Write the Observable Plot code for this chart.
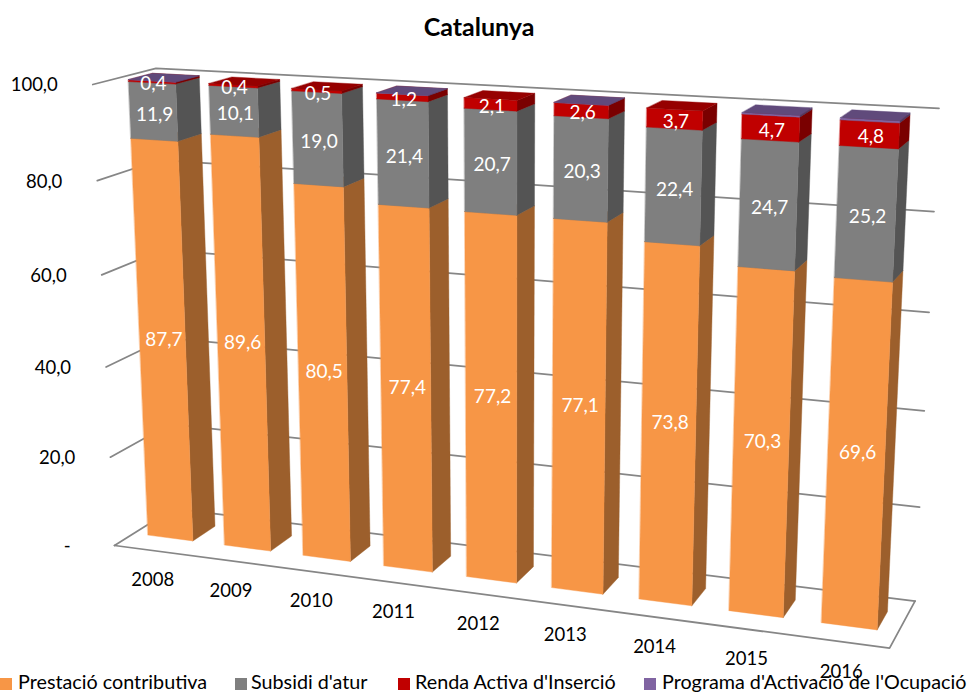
<!DOCTYPE html>
<html lang="ca">
<head>
<meta charset="utf-8">
<script src="https://cdn.jsdelivr.net/npm/d3@7"></script>
<script src="https://cdn.jsdelivr.net/npm/@observablehq/plot@0.6"></script>
<style>
  html, body { margin: 0; padding: 0; background: #fff; }
  #page { position: relative; width: 969px; height: 693px; overflow: hidden; font-family: Lato, sans-serif; color: #000; }
  #title { position: absolute; left: 0; width: 958px; top: 11px; text-align: center; font-weight: 700; font-size: 25px; line-height: 30px; }
  #chart { position: absolute; left: 0; top: 0; }
  .lg { position: absolute; top: 670px; font-size: 19.75px; line-height: 24px; white-space: nowrap; }
  .sw { position: absolute; top: 678px; width: 12px; height: 12px; }
</style>
</head>
<body>
<div id="page">
  <div id="chart"></div>
  <div id="title">Catalunya</div>
</div>
<script>
const years = ["2008","2009","2010","2011","2012","2013","2014","2015","2016"];
const prestacio = [87.7,89.6,80.5,77.4,77.2,77.1,73.8,70.3,69.6];
const subsidi   = [11.9,10.1,19.0,21.4,20.7,20.3,22.4,24.7,25.2];
const renda     = [0.4,0.4,0.5,1.2,2.1,2.6,3.7,4.7,4.8];
const programa  = [0.02,0,0,0.02,0,0.02,0,0.3,0.4];
const seriesNames = ["Prestació contributiva","Subsidi d'atur","Renda Activa d'Inserció","Programa d'Activació de l'Ocupació"];
const seriesValues = [prestacio, subsidi, renda, programa];
const valueTicks = [0,20,40,60,80,100];
const valueTickLabels = ["-","20,0","40,0","60,0","80,0","100,0"];

const frontColors = ["#F79646","#7F7F7F","#C00000","#8064A2"];
const sideColors  = ["#9C5F2C","#545454","#7A0000","#4D3B62"];
const topColors   = ["#B87034","#666666","#960000","#604A7B"];
const gridColor = "#868686";
const legendSwatchX = [0,235,398,644];
const legendTextX = [18,251,415,662];
const labelShift = [-4,2.5,2];

// Three-point perspective camera of the 3-D chart box.
const W = 969, H = 693;
const vpX = [-5792,-237], vpY = [509,8936], vpZ = [1371,-243], origin = [114,545];
const kX = -0.01289, kY = -0.0005208, kZ = 0.04925;
function project(cat, val, depth) {
  const a = kX*cat, b = kY*val, c = kZ*depth, w = 1+a+b+c;
  return [(a*vpX[0]+b*vpY[0]+c*vpZ[0]+origin[0])/w, (a*vpX[1]+b*vpY[1]+c*vpZ[1]+origin[1])/w];
}
const barL = 0.2, barR = 0.79, zF = 0.31, zB = 0.70;

// Quads: each face is two edges, (a→) and (b→), filled between.
const faces = [];
let fid = 0;
function quad(p1, p2, p3, p4, fill) {
  const id = fid++;
  faces.push({id, fill, a: project(...p1), b: project(...p2)});
  faces.push({id, fill, a: project(...p4), b: project(...p3)});
}
years.forEach((yr, i) => {
  let base = 0;
  seriesValues.forEach((vals, s) => {
    const v = vals[i];
    if (!v) return;
    const t = base + v, L = i+barL, R = i+barR;
    quad([R,t,zF],[R,base,zF],[R,base,zB],[R,t,zB], sideColors[s]);
    quad([L,t,zF],[L,base,zF],[R,base,zF],[R,t,zF], frontColors[s]);
    quad([L,t,zF],[L,t,zB],[R,t,zB],[R,t,zF], topColors[s]);
    base = t;
  });
});

const gridPts = [];
valueTicks.forEach(v => {
  [[0,0],[0,1],[years.length,1]].forEach(([c,d]) => gridPts.push({k:v, p:project(c,v,d)}));
});
[[0,0],[years.length,0],[years.length,1]].forEach(([c,d]) => gridPts.push({k:"floor", p:project(c,0,d)}));

const labels = [];
years.forEach((yr, i) => {
  let base = 0;
  seriesValues.slice(0,3).forEach((vals, s) => {
    const v = vals[i];
    const p = project(i+0.5, base+v/2, zF);
    labels.push({text: v.toFixed(1).replace(".",","), x:p[0]+0.5, y:p[1]+labelShift[s]});
    base += v;
  });
});

const chart = Plot.plot({
  width: W, height: H, margin: 0,
  x: {domain:[0,W], range:[0,W], axis:null},
  y: {domain:[0,H], range:[0,H], axis:null},
  color: {type:"identity"},
  style: {background:"transparent", fontFamily:"Lato, sans-serif", overflow:"visible"},
  marks: [
    Plot.line(gridPts, {x:d=>d.p[0], y:d=>d.p[1], z:"k", stroke:gridColor, strokeWidth:1.75, strokeLinejoin:"miter"}),
    Plot.area(faces, {x1:d=>d.a[0], y1:d=>d.a[1], x2:d=>d.b[0], y2:d=>d.b[1], z:"id", fill:"fill", stroke:"fill", strokeWidth:0.4, curve:"linear"}),
    Plot.text(labels, {x:"x", y:"y", text:"text", fill:"#fff", fontSize:19, textAnchor:"middle"}),
    Plot.text(valueTicks, {x:v=>project(0,v,0)[0]-(v===0?44:35), y:v=>project(0,v,0)[1]+1, text:(v,i)=>valueTickLabels[i], fontSize:18.5, textAnchor:"end", fill:"#000"}),
    Plot.text(years, {x:(y,i)=>project(i+0.5,0,0)[0], y:(y,i)=>project(i+0.5,0,0)[1]+30, text:y=>y, fontSize:18.5, fill:"#000"})
  ]
});
document.getElementById("chart").appendChild(chart);

const page = document.getElementById("page");
seriesNames.forEach((name,i) => {
  const sw = document.createElement("div");
  sw.className = "sw"; sw.style.left = legendSwatchX[i]+"px"; sw.style.background = frontColors[i];
  page.appendChild(sw);
  const t = document.createElement("div");
  t.className = "lg"; t.style.left = legendTextX[i]+"px"; t.textContent = name;
  page.appendChild(t);
});
</script>
</body>
</html>
